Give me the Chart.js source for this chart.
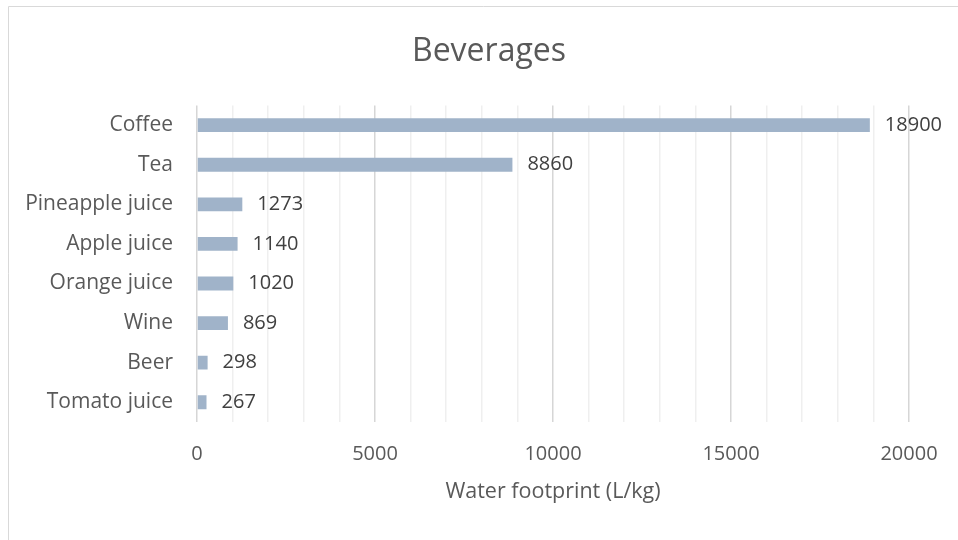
<!DOCTYPE html>
<html>
<head>
<meta charset="utf-8">
<script src="https://cdn.jsdelivr.net/npm/chart.js@4"></script>
<style>
  html, body { margin: 0; padding: 0; background: #fff; overflow: hidden; }
  #wrap { width: 958px; height: 540px; }
</style>
</head>
<body>
<div id="wrap"><canvas id="chart" width="958" height="540"></canvas></div>
<script>
const beverages = ['Coffee', 'Tea', 'Pineapple juice', 'Apple juice', 'Orange juice', 'Wine', 'Beer', 'Tomato juice'];
const footprint = [18900, 8860, 1273, 1140, 1020, 869, 298, 267];
const axisTicks = [0, 5000, 10000, 15000, 20000];

const FONT = 'Open Sans';

// value labels to the right of each bar
const valueLabels = {
    id: 'valueLabels',
    afterDatasetsDraw(chart) {
        const ctx = chart.ctx;
        const meta = chart.getDatasetMeta(0);
        ctx.save();
        ctx.font = '20px "' + FONT + '"';
        ctx.fillStyle = '#404040';
        ctx.textAlign = 'left';
        ctx.textBaseline = 'middle';
        meta.data.forEach((bar, i) => {
            ctx.fillText(String(footprint[i]), bar.x + 15, bar.y);
        });
        ctx.restore();
    }
};

// thin frame round the chart (only left and top edges are in view)
const frame = {
    id: 'frame',
    beforeDraw(chart) {
        const ctx = chart.ctx;
        ctx.save();
        ctx.strokeStyle = '#d9d9d9';
        ctx.lineWidth = 1;
        ctx.beginPath();
        ctx.moveTo(8.5, chart.height + 5);
        ctx.lineTo(8.5, 6.5);
        ctx.lineTo(chart.width + 5, 6.5);
        ctx.stroke();
        ctx.restore();
    }
};

const ctx = document.getElementById('chart').getContext('2d');

new Chart(ctx, {
    type: 'bar',
    data: {
        labels: beverages,
        datasets: [{
            label: 'Water footprint',
            data: footprint,
            backgroundColor: '#a0b3c9',
            borderWidth: 0,
            categoryPercentage: 1,
            barPercentage: 0.35
        }]
    },
    options: {
        indexAxis: 'y',
        responsive: false,
        animation: false,
        layout: { padding: { left: 20, right: 0, top: 0, bottom: 35 } },
        plugins: {
            legend: { display: false },
            tooltip: { enabled: false },
            title: {
                display: true,
                text: 'Beverages',
                color: '#595959',
                font: { family: FONT, size: 32, weight: 'normal' },
                padding: { top: 33, bottom: 34 }
            }
        },
        scales: {
            x: {
                min: 0,
                max: 20000,
                afterFit(scale) { scale.height = 83; },
                ticks: {
                    stepSize: 1000,
                    autoSkip: false,
                    maxRotation: 0,
                    padding: 20,
                    color: '#595959',
                    font: { family: FONT, size: 20 },
                    callback: v => axisTicks.includes(v) ? v : ''
                },
                grid: {
                    drawTicks: false,
                    lineWidth: 1.5,
                    color: c => (c.tick && c.tick.value % 5000 === 0) ? '#d6d6d6' : '#efefef'
                },
                border: { display: false },
                title: {
                    display: true,
                    text: 'Water footprint (L/kg)',
                    color: '#595959',
                    font: { family: FONT, size: 21.5 },
                    padding: { top: 0, bottom: 0 }
                }
            },
            y: {
                afterFit(scale) { scale.width = 177; },
                ticks: {
                    padding: 24,
                    color: '#595959',
                    font: { family: FONT, size: 21 }
                },
                grid: { display: false, drawTicks: false },
                border: { display: false }
            },
            // empty right-hand axis: keeps the plot narrower than the title box
            yRight: {
                type: 'category',
                position: 'right',
                afterFit(scale) { scale.width = 49; },
                ticks: { display: false },
                grid: { display: false, drawTicks: false },
                border: { display: false }
            }
        }
    },
    plugins: [valueLabels, frame]
});
</script>
</body>
</html>
